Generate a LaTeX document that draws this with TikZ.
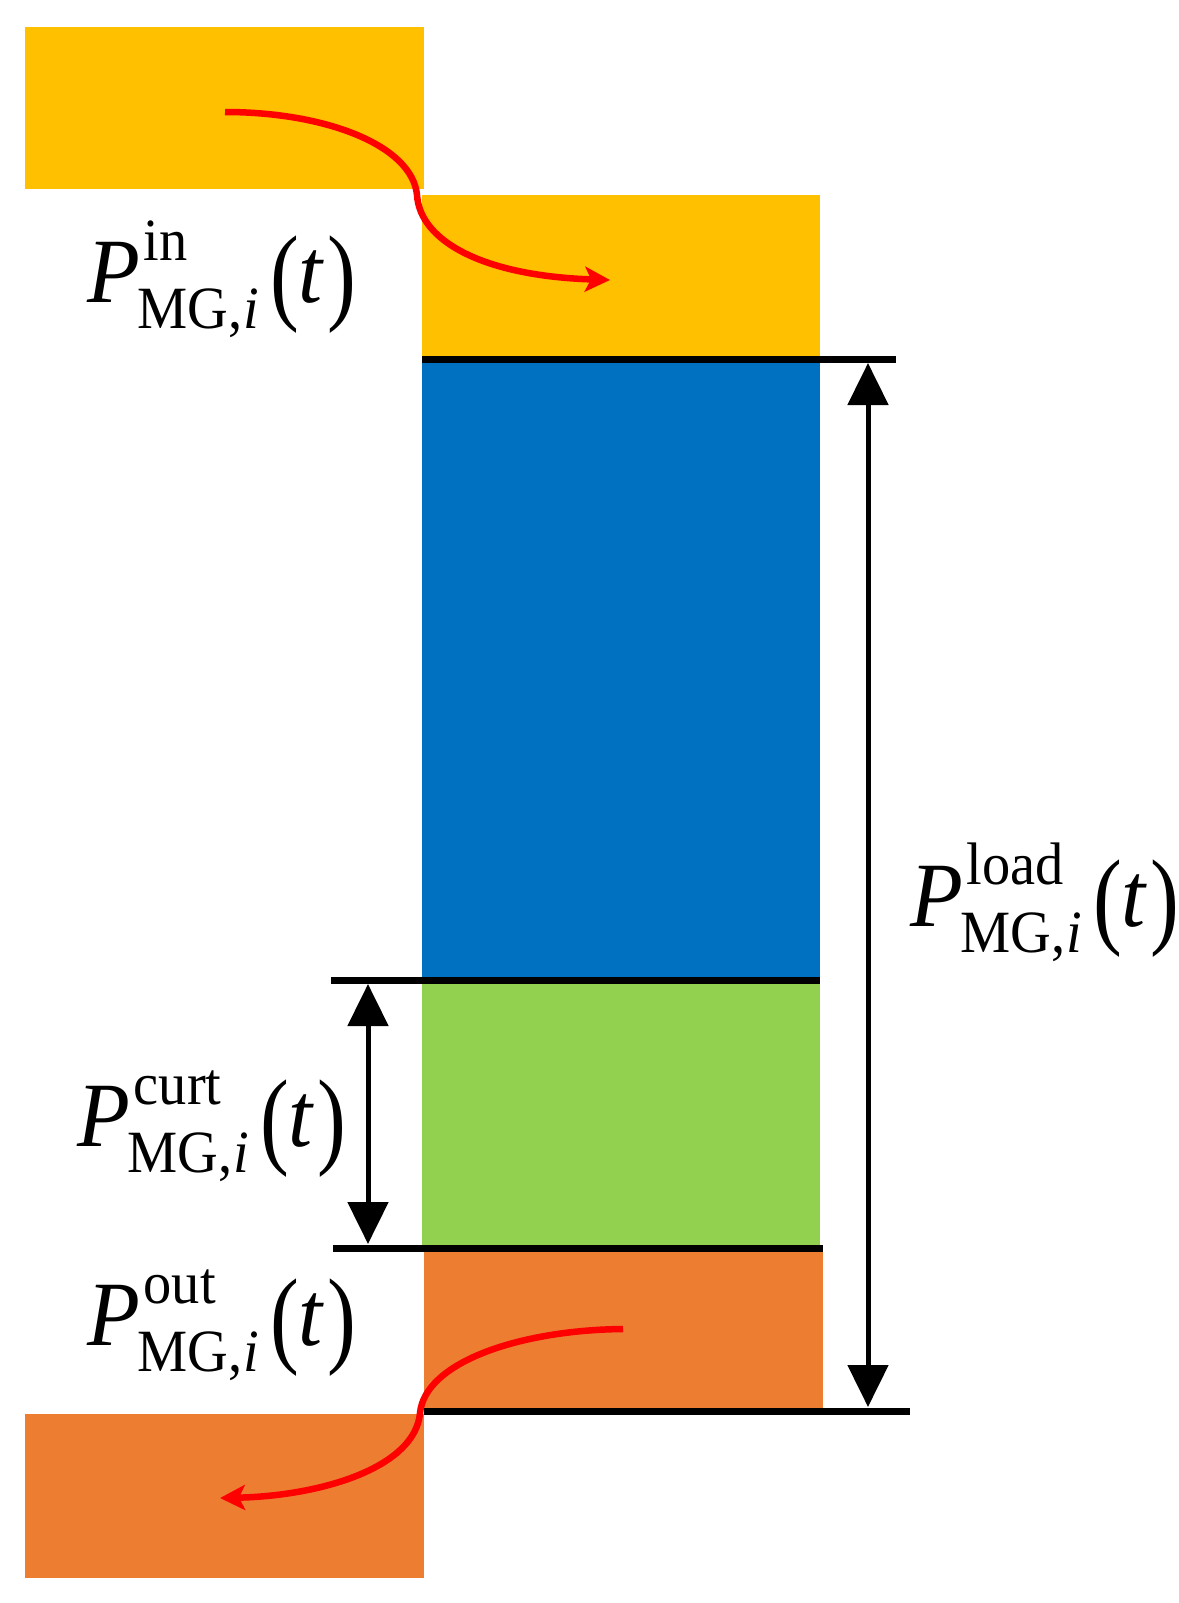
\documentclass[tikz,border=0pt]{standalone}
\usepackage{fontspec}
\setmainfont{Liberation Serif}
\usepackage{graphicx}
\usetikzlibrary{arrows.meta}
\definecolor{cyel}{HTML}{FFC000}
\definecolor{cblue}{HTML}{0070C0}
\definecolor{cgreen}{HTML}{92D050}
\definecolor{corange}{HTML}{ED7D31}
\definecolor{cred}{HTML}{FF0000}
\newsavebox\lsup
\newsavebox\lsub
\newcommand{\plbl}[1]{%
\scalebox{0.94}[1]{%
\fontsize{92}{110}\selectfont
\sbox\lsup{\fontsize{60}{60}\selectfont #1}%
\sbox\lsub{\fontsize{60}{60}\selectfont MG,\kern1pt\textit{i}}%
\textit{P}%
\rlap{\kern4pt\raisebox{42pt}{\usebox\lsup}}%
\kern-3pt\raisebox{-26pt}{\usebox\lsub}%
\ifdim\wd\lsup>\wd\lsub \kern\dimexpr\wd\lsup-\wd\lsub+7pt\relax\fi
\kern12pt\raisebox{-8pt}{\scalebox{1}[1.17]{(}}\textit{t}\kern3pt\raisebox{-8pt}{\scalebox{1}[1.17]{)}}}}
\tikzset{
  level/.style={line width=7pt, black},
  dimarrow/.style={line width=5pt, black, {Triangle[width=40pt,length=42pt]}-{Triangle[width=40pt,length=42pt]}},
  flow/.style={line width=6.5pt, cred, -{Stealth[width=25pt,length=25pt,inset=6pt]}},
  lbl/.style={inner sep=0pt, anchor=base west}
}
\begin{document}
\begin{tikzpicture}[x=1pt,y=-1pt]
\useasboundingbox (0,0) rectangle (1178,1603);
% blocks
\fill[cyel] (25,27) rectangle (424,189);
\fill[cyel] (422,195) rectangle (820,359);
\fill[cblue] (422,359) rectangle (820,980);
\fill[cgreen] (422,980) rectangle (820,1248);
\fill[corange] (424,1248) rectangle (823,1411);
\fill[corange] (25,1414) rectangle (424,1578);
% level lines
\coordinate (l1a) at (422,359); \coordinate (l1b) at (896,359);
\coordinate (l2a) at (331,980); \coordinate (l2b) at (820,980);
\coordinate (l3a) at (333,1248); \coordinate (l3b) at (823,1248);
\coordinate (l4a) at (424,1411); \coordinate (l4b) at (910,1411);
\draw[level] (l1a) -- (l1b);
\draw[level] (l2a) -- (l2b);
\draw[level] (l3a) -- (l3b);
\draw[level] (l4a) -- (l4b);
% dimension arrows
\coordinate (loadtop) at (868,363);
\coordinate (loadbot) at (868,1407);
\coordinate (curttop) at (368,984);
\coordinate (curtbot) at (368,1244);
\draw[dimarrow] (loadtop) -- (loadbot);
\draw[dimarrow] (curttop) -- (curtbot);
% red flows
\coordinate (inA) at (225,112);
\coordinate (inM) at (417,195);
\coordinate (inB) at (610,280);
\draw[flow] (inA) .. controls (325,112) and (412,145) .. (inM)
  .. controls (420,242) and (485,276) .. (inB);
\coordinate (outA) at (623,1329);
\coordinate (outM) at (420,1413);
\coordinate (outB) at (220,1498);
\draw[flow] (outA) .. controls (520,1330) and (425,1362) .. (outM)
  .. controls (415,1468) and (320,1496) .. (outB);
% labels
\node[lbl] (pin) at (87,302) {\plbl{in}};
\node[lbl] (pcurt) at (77,1146) {\plbl{curt}};
\node[lbl] (pout) at (87,1345) {\plbl{out}};
\node[lbl] (pload) at (910,926) {\plbl{load}};
\end{tikzpicture}
\end{document}
